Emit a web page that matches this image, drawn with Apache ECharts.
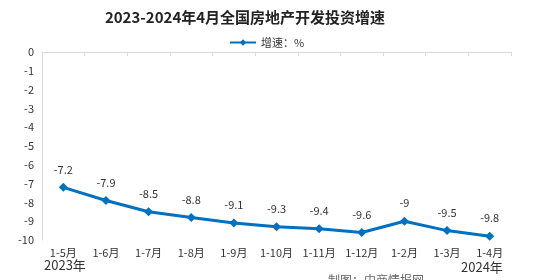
<!DOCTYPE html>
<html><head><meta charset="utf-8">
<script src="https://cdn.jsdelivr.net/npm/echarts@6/dist/echarts.min.js"></script>
<style>html,body{margin:0;padding:0;background:#fff}#c{width:536px;height:280px}</style>
</head><body><div id="c"></div>
<script>
var categories = ['1-5月','1-6月','1-7月','1-8月','1-9月','1-10月','1-11月','1-12月','1-2月','1-3月','1-4月'];
var growth = [-7.2,-7.9,-8.5,-8.8,-9.1,-9.3,-9.4,-9.6,-9,-9.5,-9.8];
var yearLabels = ['2023年','2024年'];
var seriesName = '增速：%';
var titleText = '2023-2024年4月全国房地产开发投资增速';
var sourceText = '制图：中商情报网';
var chart = echarts.init(document.getElementById('c'));
var font = '"Noto Sans CJK SC", sans-serif';
chart.setOption({
  animation:false,
  backgroundColor:'#fff',
  title:{text:titleText,left:240,textAlign:'center',top:5,textStyle:{fontFamily:font,fontSize:15,fontWeight:'bold',color:'#222'}},
  legend:{data:[seriesName],left:224,top:32,itemWidth:26,itemHeight:8,itemGap:3,textStyle:{fontFamily:font,fontSize:11,color:'#333'}},
  grid:{left:42,right:25,top:52,bottom:40},
  xAxis:{type:'category',data:categories,boundaryGap:true,
    axisLine:{lineStyle:{color:'#d9d9d9'}},
    axisTick:{show:true,length:4,lineStyle:{color:'#d9d9d9'},alignWithLabel:false},
    axisLabel:{fontFamily:font,fontSize:11,color:'#333',margin:7,interval:0}},
  yAxis:{type:'value',min:-10,max:0,interval:1,
    axisLine:{show:true,lineStyle:{color:'#d9d9d9'}},axisTick:{show:false},
    splitLine:{show:false},
    axisLabel:{fontFamily:font,fontSize:11,color:'#333',margin:8}},
  series:[{name:seriesName,type:'line',data:growth,
    lineStyle:{color:'#0070C0',width:3},itemStyle:{color:'#0070C0'},
    symbol:'diamond',symbolSize:9,
    label:{show:true,position:'top',distance:8,fontFamily:font,fontSize:11,color:'#333'}}],
  graphic:[
    {type:'text',left:44,top:259,style:{text:yearLabels[0],font:'13px '+font,fill:'#333'}},
    {type:'text',left:461,top:261,style:{text:yearLabels[1],font:'13px '+font,fill:'#333'}},
    {type:'text',left:328,top:274,style:{text:sourceText,font:'12px '+font,fill:'#666'}}
  ]
});
</script></body></html>
